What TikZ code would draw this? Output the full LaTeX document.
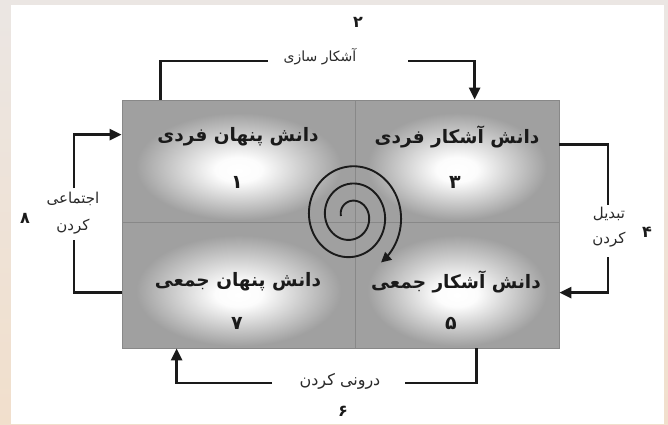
\documentclass[tikz,border=0pt]{standalone}
\usepackage{fontspec}
\usetikzlibrary{arrows.meta}
\TeXXeTstate=1
\newfontfamily\fa[Script=Arabic]{DejaVu Sans}
\definecolor{bgbeige}{HTML}{F1DFCC}
\definecolor{bgtop}{HTML}{EBE6E3}
\definecolor{cellgray}{HTML}{A0A0A0}
\definecolor{celledge}{HTML}{888888}
\definecolor{ink}{HTML}{1A1A1A}
\definecolor{labink}{HTML}{2A2A2A}
\pgfdeclareradialshading{cellshade}{\pgfpoint{0bp}{-4bp}}{color(0bp)=(white); color(5bp)=(white!97!cellgray); color(22bp)=(cellgray); color(50bp)=(cellgray)}
\tikzset{
  cell/.style={draw=celledge, line width=0.8pt, shading=cellshade, inner sep=0pt},
  celltext/.style={font=\fa\bfseries\fontsize{18.5}{22}\selectfont, text=ink, inner sep=0pt},
  celldigit/.style={font=\fa\bfseries\fontsize{19}{22}\selectfont, text=ink, inner sep=0pt},
  lab/.style={text=labink, inner sep=0pt, align=center},
  outdigit/.style={font=\fa\bfseries\fontsize{16}{18}\selectfont, text=ink, inner sep=0pt},
  conn/.style={draw=ink, line width=2.6pt},
  tip/.style={-{Triangle[length=12pt,width=11pt]}},
  spiral/.style={draw=ink, line width=1.9pt, -{Triangle[length=10pt,width=10pt]}}
}
\begin{document}
\begin{tikzpicture}[x=1pt,y=-1pt]
\useasboundingbox (0,0) rectangle (668,424);
\shade[top color=bgtop, bottom color=bgbeige] (0,0) rectangle (668,424);
\fill[white] (11,5) rectangle (664,424);

% cells
\node[cell, minimum width=233pt, minimum height=122pt] (c1) at (238.5,161) {};
\node[cell, minimum width=204pt, minimum height=122pt] (c3) at (457,161) {};
\node[cell, minimum width=233pt, minimum height=126pt] (c7) at (238.5,285) {};
\node[cell, minimum width=204pt, minimum height=126pt] (c5) at (457,285) {};

% cell texts
\node[celltext] (t1) at (238,137) {\beginR دانش پنهان فردی\endR};
\node[celldigit] (n1) at (237,182) {\beginR ۱\endR};
\node[celltext] (t3) at (457,137) {\beginR دانش آشکار فردی\endR};
\node[celldigit] (n3) at (455,182) {\beginR ۳\endR};
\node[celltext] (t7) at (238,282) {\beginR دانش پنهان جمعی\endR};
\node[celldigit] (n7) at (237,323) {\beginR ۷\endR};
\node[celltext] (t5) at (456,282) {\beginR دانش آشکار جمعی\endR};
\node[celldigit] (n5) at (451,323) {\beginR ۵\endR};

% spiral
\draw[spiral] plot[domain=0:955, samples=240, smooth, variable=\t]
  ({351 - (10+16*\t/360)*cos(\t)}, {216 - 1.08*(10+16*\t/360)*sin(\t)});

% gap coordinates
\coordinate (g2l) at (268,61);
\coordinate (g2r) at (408,61);
\coordinate (g4t) at (608,205);
\coordinate (g4b) at (608,257);
\coordinate (g6r) at (405,383);
\coordinate (g6l) at (272,383);
\coordinate (g8b) at (74,240);
\coordinate (g8t) at (74,188);

% connectors
\draw[conn] ([xshift=39pt]c1.north west) |- (g2l);
\draw[conn,tip] (g2r) -| ([xshift=120pt]c3.north west);
\draw[conn] ([yshift=-45pt]c3.north east) -| (g4t);
\draw[conn,tip] (g4b) |- ([yshift=-71pt]c5.north east);
\draw[conn] ([xshift=122pt]c5.south west) |- (g6r);
\draw[conn,tip] (g6l) -| ([xshift=55pt]c7.south west);
\draw[conn] ([yshift=56pt]c7.south west) -| (g8b);
\draw[conn,tip] (g8t) |- ([yshift=-35pt]c1.north west);

% labels
\node[lab, font=\fa\fontsize{14}{24}\selectfont] (l2) at (320,57) {\beginR آشکار سازی\endR};
\node[outdigit] (d2) at (358,22) {\beginR ۲\endR};
\node[lab, font=\fa\fontsize{15}{25}\selectfont] (l4) at (609,227) {\beginR تبدیل\endR\\\beginR کردن\endR};
\node[outdigit] (d4) at (647,232) {\beginR ۴\endR};
\node[lab, font=\fa\fontsize{16}{24}\selectfont] (l6) at (340,381) {\beginR درونی کردن\endR};
\node[outdigit] (d6) at (343,411) {\beginR ۶\endR};
\node[lab, font=\fa\fontsize{15}{27}\selectfont] (l8) at (73,213) {\beginR اجتماعی\endR\\\beginR کردن\endR};
\node[outdigit] (d8) at (25,218) {\beginR ۸\endR};
\end{tikzpicture}
\end{document}
